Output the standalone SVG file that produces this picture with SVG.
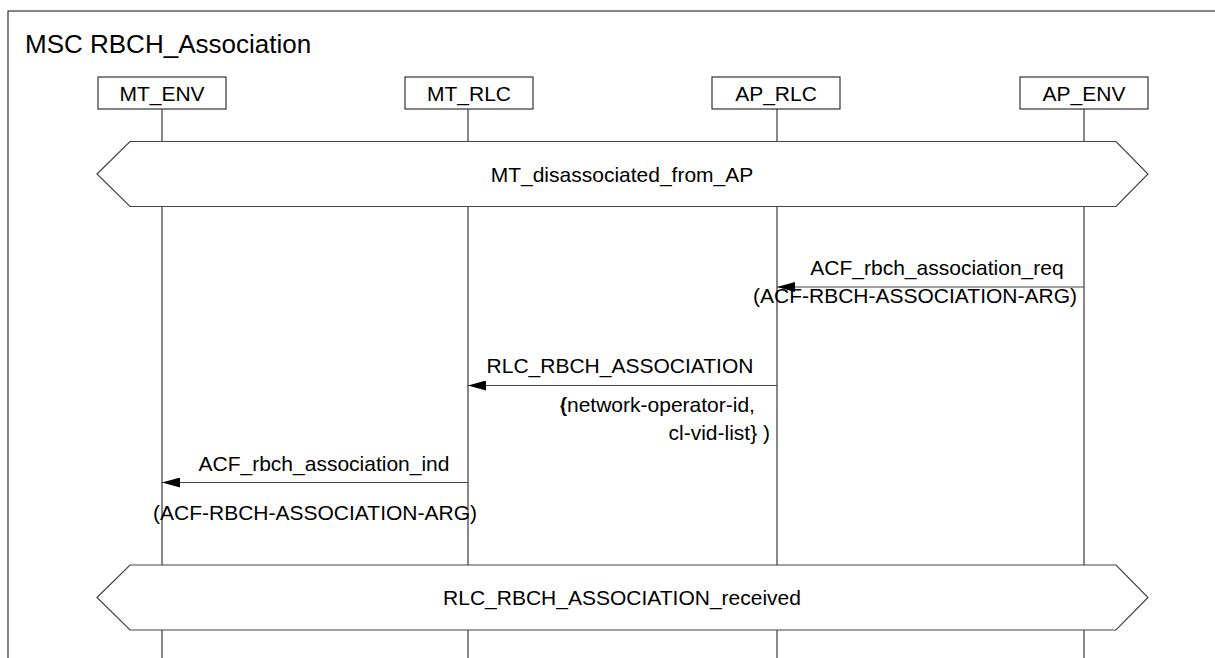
<svg xmlns="http://www.w3.org/2000/svg" width="1215" height="658" viewBox="0 0 1215 658">
<defs>
<style>
text{font-family:"Liberation Sans",Arial,sans-serif;font-size:21px;fill:#000}
.title{font-size:26px}
.box{fill:#fff;stroke:#333;stroke-width:1.2}
.life{stroke:#555;stroke-width:1.4;fill:none}
.cond{fill:#fff;stroke:#444;stroke-width:1.2}
.msg{stroke:#444;stroke-width:1.2;fill:none}
.mid{text-anchor:middle}
.end{text-anchor:end}
</style>
<marker id="ah" markerWidth="18" markerHeight="10" refX="18" refY="5" orient="auto" markerUnits="userSpaceOnUse">
<path d="M0,0 L18,5 L0,10 Z" fill="#000"/>
</marker>
</defs>
<rect x="0" y="0" width="1215" height="658" fill="#fff"/>
<rect id="frame" x="8" y="11" width="1220" height="660" fill="none" stroke="#333" stroke-width="1.2"/>
<text class="title" x="25" y="53">MSC RBCH_Association</text>
<g id="lifelines">
<line class="life" x1="162" y1="109" x2="162" y2="658"/>
<line class="life" x1="468" y1="109" x2="468" y2="658"/>
<line class="life" x1="777" y1="109" x2="777" y2="658"/>
<line class="life" x1="1084" y1="109" x2="1084" y2="658"/>
</g>
<g id="MT_ENV"><rect class="box" x="98" y="77" width="128" height="32"/><text class="mid" x="162" y="101">MT_ENV</text></g>
<g id="MT_RLC"><rect class="box" x="405" y="77" width="128" height="32"/><text class="mid" x="469" y="101">MT_RLC</text></g>
<g id="AP_RLC"><rect class="box" x="712" y="77" width="128" height="32"/><text class="mid" x="776" y="101">AP_RLC</text></g>
<g id="AP_ENV"><rect class="box" x="1020" y="77" width="128" height="32"/><text class="mid" x="1084" y="101">AP_ENV</text></g>
<g id="cond1"><polygon class="cond" points="97,174 130,141.5 1116,141.5 1148,174 1116,206.5 130,206.5"/><text class="mid" x="622" y="182">MT_disassociated_from_AP</text></g>
<g id="cond2"><polygon class="cond" points="97,597.5 130,565 1116,565 1148,597.5 1116,630 130,630"/><text class="mid" x="622" y="605">RLC_RBCH_ASSOCIATION_received</text></g>
<g id="connectors">
<line class="msg" x1="1084" y1="287" x2="777" y2="287" marker-end="url(#ah)"/>
<line class="msg" x1="777" y1="385.5" x2="468" y2="385.5" marker-end="url(#ah)"/>
<line class="msg" x1="468" y1="482.5" x2="162" y2="482.5" marker-end="url(#ah)"/>
</g>
<g id="labels">
<text class="mid" x="937" y="275">ACF_rbch_association_req</text>
<text class="mid" x="915" y="303">(ACF-RBCH-ASSOCIATION-ARG)</text>
<text class="mid" x="620" y="373">RLC_RBCH_ASSOCIATION</text>
<text x="560" y="412">(<tspan dx="-7">{network-operator-id,</tspan></text>
<text class="end" x="770" y="440">cl-vid-list} )</text>
<text class="mid" x="324" y="471">ACF_rbch_association_ind</text>
<text class="mid" x="315" y="520">(ACF-RBCH-ASSOCIATION-ARG)</text>
</g>
</svg>
